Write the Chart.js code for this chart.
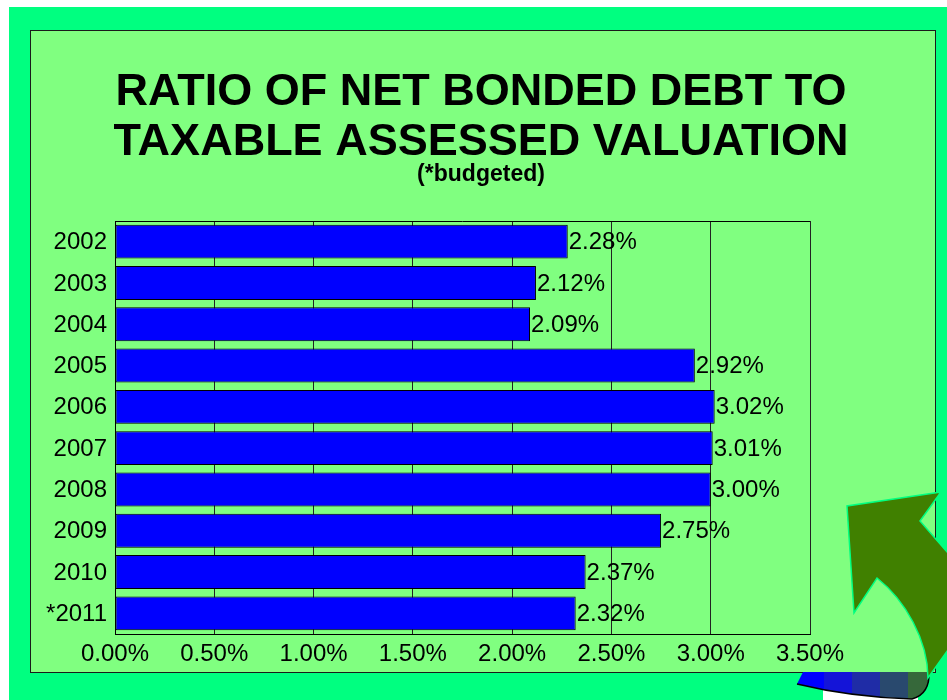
<!DOCTYPE html>
<html>
<head>
<meta charset="utf-8">
<script src="https://cdn.jsdelivr.net/npm/chart.js@4.4.0/dist/chart.umd.min.js"></script>
<style>
  html, body { margin: 0; padding: 0; background: #fff; }
  #contenedor { width: 947px; height: 700px; }
</style>
</head>
<body>
<div id="contenedor"><canvas id="grafico" width="947" height="700"></canvas></div>
<script>
const anios = ['2002', '2003', '2004', '2005', '2006', '2007', '2008', '2009', '2010', '*2011'];
const ratios = [2.28, 2.12, 2.09, 2.92, 3.02, 3.01, 3.00, 2.75, 2.37, 2.32];
const titulo = ['RATIO OF NET BONDED DEBT TO', 'TAXABLE ASSESSED VALUATION'];
const subtitulo = '(*budgeted)';
const escalaMax = 3.5;
const escalaPaso = 0.5;

const fuente = "'Liberation Sans', Arial, sans-serif";
const formatoPct = (v) => `${Number(v).toFixed(2)}%`;

// fondo verde, panel y titulos
const fondo = {
    id: 'fondo',
    beforeDraw(chart) {
        const { ctx, width, height } = chart;
        ctx.save();
        ctx.fillStyle = '#ffffff';
        ctx.fillRect(0, 0, width, height);
        ctx.fillStyle = '#00ff80';
        ctx.fillRect(9, 7, width - 9, height - 7);
        ctx.fillStyle = '#80ff80';
        ctx.fillRect(30, 30, 905, 642);
        ctx.strokeStyle = '#1a1a1a';
        ctx.lineWidth = 1;
        ctx.strokeRect(30.5, 30.5, 905, 642);

        ctx.fillStyle = '#000';
        ctx.textAlign = 'center';
        ctx.textBaseline = 'alphabetic';
        ctx.font = `bold 45px ${fuente}`;
        ctx.fillText(titulo[0], 481, 105);
        ctx.fillText(titulo[1], 481, 155);
        ctx.font = `bold 23px ${fuente}`;
        ctx.fillText(subtitulo, 481, 181);
        ctx.restore();
    },
    beforeDatasetsDraw(chart) {
        const { ctx, chartArea } = chart;
        ctx.save();
        ctx.strokeStyle = '#000';
        ctx.lineWidth = 1;
        ctx.beginPath();
        ctx.moveTo(chartArea.left, Math.round(chartArea.top) + 0.5);
        ctx.lineTo(chartArea.right, Math.round(chartArea.top) + 0.5);
        ctx.stroke();
        ctx.restore();
    }
};

// valor al final de cada barra
const etiquetas = {
    id: 'etiquetas',
    afterDatasetsDraw(chart) {
        const { ctx } = chart;
        const meta = chart.getDatasetMeta(0);
        ctx.save();
        ctx.fillStyle = '#000';
        ctx.font = `24px ${fuente}`;
        ctx.textAlign = 'left';
        ctx.textBaseline = 'middle';
        meta.data.forEach((barra, i) => {
            ctx.fillText(formatoPct(ratios[i]), barra.x + 1, barra.y + 1);
        });
        ctx.restore();
    }
};

// flecha decorativa de la esquina
const flecha = {
    id: 'flecha',
    afterDraw(chart) {
        const { ctx } = chart;
        ctx.save();

        // base azul
        ctx.fillStyle = '#ffffff';
        ctx.fillRect(823, 690, 95, 10);
        ctx.beginPath();
        ctx.moveTo(803, 672);
        ctx.lineTo(929, 672);
        ctx.quadraticCurveTo(930, 694, 912, 699);
        ctx.quadraticCurveTo(850, 697, 797, 684);
        ctx.closePath();
        ctx.save();
        ctx.clip();
        const bandas = ['#0000ff', '#1414d8', '#1f2ca6', '#29496e', '#36683a'];
        bandas.forEach((color, i) => {
            ctx.fillStyle = color;
            ctx.fillRect(796 + i * 28, 670, 28, 32);
        });
        ctx.restore();
        ctx.strokeStyle = '#000';
        ctx.lineWidth = 1.5;
        ctx.beginPath();
        ctx.moveTo(797, 684);
        ctx.quadraticCurveTo(850, 697, 912, 699);
        ctx.quadraticCurveTo(930, 694, 929, 672);
        ctx.stroke();

        // cuerpo de la flecha
        ctx.beginPath();
        ctx.moveTo(941, 492);
        ctx.lineTo(920, 521);
        ctx.lineTo(948, 553);
        ctx.lineTo(948, 650);
        ctx.lineTo(928, 678);
        ctx.bezierCurveTo(928, 640, 905, 600, 877, 578);
        ctx.lineTo(854, 613);
        ctx.lineTo(847, 506);
        ctx.closePath();
        ctx.fillStyle = '#408000';
        ctx.fill();
        ctx.strokeStyle = '#00ff80';
        ctx.lineWidth = 1.5;
        ctx.stroke();
        ctx.restore();
    }
};

new Chart(document.getElementById('grafico'), {
    type: 'bar',
    data: {
        labels: anios,
        datasets: [{
            data: ratios,
            backgroundColor: '#0000ff',
            borderColor: '#000',
            borderWidth: 1,
            borderSkipped: false,
            categoryPercentage: 1,
            barPercentage: 0.82
        }]
    },
    options: {
        indexAxis: 'y',
        responsive: false,
        animation: false,
        devicePixelRatio: 1,
        layout: { padding: { left: 30, right: 137, top: 221, bottom: 26 } },
        plugins: {
            legend: { display: false },
            title: { display: false },
            tooltip: { enabled: false }
        },
        scales: {
            x: {
                min: 0,
                max: escalaMax,
                afterFit: (escala) => { escala.height = 40; },
                ticks: {
                    stepSize: escalaPaso,
                    padding: 6,
                    color: '#000',
                    font: { family: fuente, size: 24 },
                    callback: (v) => formatoPct(v)
                },
                grid: { color: '#222', drawTicks: false, lineWidth: 1 },
                border: { color: '#000', width: 1 }
            },
            y: {
                afterFit: (escala) => { escala.width = 85; },
                ticks: {
                    padding: 8,
                    labelOffset: 1,
                    color: '#000',
                    font: { family: fuente, size: 24 }
                },
                grid: { display: false, drawTicks: false },
                border: { color: '#000', width: 1 }
            }
        }
    },
    plugins: [fondo, etiquetas, flecha]
});
</script>
</body>
</html>
